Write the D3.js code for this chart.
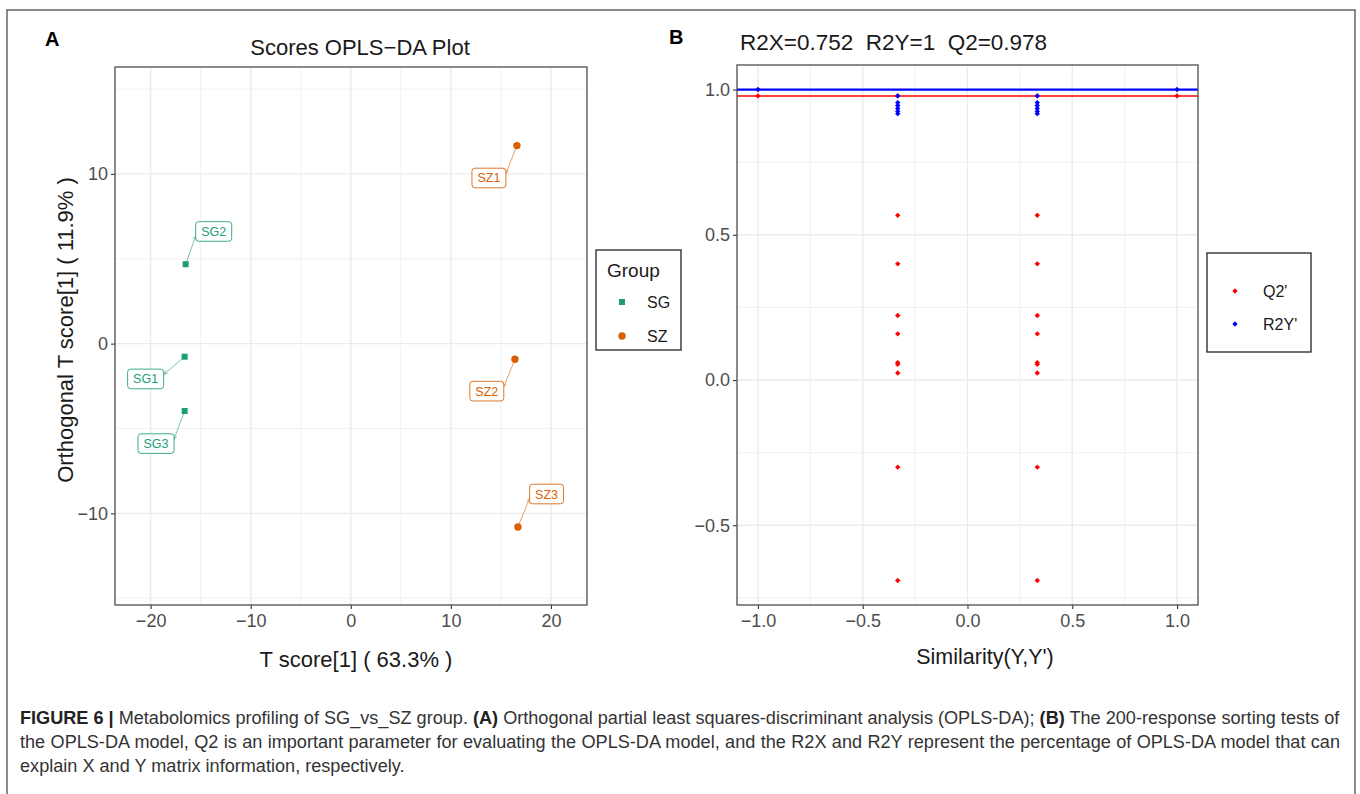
<!DOCTYPE html>
<html><head><meta charset="utf-8">
<script src="https://cdn.jsdelivr.net/npm/d3@7"></script>
<style>
body{margin:0;background:#fff;}
svg{display:block;font-family:"Liberation Sans",Arial,Helvetica,sans-serif;}
text{white-space:pre;}
</style></head><body>
<svg id="fig" width="1360" height="794"></svg>
<script>
// ---------- Panel A data (OPLS-DA scores) ----------
const sampleNames  = ["SG1","SG2","SG3","SZ1","SZ2","SZ3"];
const sampleGroups = ["SG","SG","SG","SZ","SZ","SZ"];
const tScore       = [-16.6,-16.5,-16.6,16.6,16.4,16.7];
const orthoTScore  = [-0.77,4.68,-3.97,11.67,-0.92,-10.8];
// repelled label anchors (data units)
const labelT       = [-20.5,-13.7,-19.46,13.8,13.59,19.56];
const labelOrtho   = [-2.08,6.61,-5.89,9.76,-2.80,-8.86];
const groupNames   = ["SG","SZ"];
const groupColors  = ["#1B9E77","#D95F02"];
const xTicksA = [-20,-10,0,10,20];
const yTicksA = [-10,0,10];
const xMinorA = [-15,-5,5,15];
const yMinorA = [-15,-5,5,15];

// ---------- Panel B data (permutation test) ----------
const modelR2X = 0.752, modelR2Y = 1, modelQ2 = 0.978;
const q2Similarity = [-1,1,
  -0.333,-0.333,-0.333,-0.333,-0.333,-0.333,-0.333,-0.333,-0.333,-0.333,
   0.333, 0.333, 0.333, 0.333, 0.333, 0.333, 0.333, 0.333, 0.333, 0.333];
const q2Values = [0.978,0.978,
  0.978,0.567,0.40,0.222,0.159,0.060,0.054,0.024,-0.30,-0.69,
  0.978,0.567,0.40,0.222,0.159,0.060,0.054,0.024,-0.30,-0.69];
const r2ySimilarity = [-1,1,
  -0.333,-0.333,-0.333,-0.333,-0.333,-0.333,
   0.333, 0.333, 0.333, 0.333, 0.333, 0.333];
const r2yValues = [1,1,
  0.978,0.955,0.945,0.935,0.925,0.917,
  0.978,0.955,0.945,0.935,0.925,0.917];
const seriesNames  = ["Q2'","R2Y'"];
const seriesColors = ["#FF0000","#0000FF"];
const xTicksB = [-1,-0.5,0,0.5,1];
const yTicksB = [-0.5,0,0.5,1];
const xMinorB = [-0.75,-0.25,0.25,0.75];
const yMinorB = [-0.75,-0.25,0.25,0.75];

const svg = d3.select("#fig");
svg.append("rect").attr("width",1360).attr("height",794).attr("fill","#fff");
// outer figure frame
svg.append("rect").attr("x",7).attr("y",10).attr("width",1348).attr("height",800)
  .attr("fill","none").attr("stroke","#666").attr("stroke-width",1.5);

function drawPanel(g, x, y, xMaj, xMin, yMaj, yMin, fmt){
  const [x0,x1] = x.range(), [y1,y0] = y.range();
  const grid = g.append("g");
  grid.selectAll(".vmin").data(xMin).join("line")
    .attr("x1",d=>x(d)).attr("x2",d=>x(d)).attr("y1",y0).attr("y2",y1)
    .attr("stroke","#EBEBEB").attr("stroke-width",0.7);
  grid.selectAll(".hmin").data(yMin).join("line")
    .attr("x1",x0).attr("x2",x1).attr("y1",d=>y(d)).attr("y2",d=>y(d))
    .attr("stroke","#EBEBEB").attr("stroke-width",0.7);
  grid.selectAll(".vmaj").data(xMaj).join("line")
    .attr("x1",d=>x(d)).attr("x2",d=>x(d)).attr("y1",y0).attr("y2",y1)
    .attr("stroke","#EBEBEB").attr("stroke-width",1.4);
  grid.selectAll(".hmaj").data(yMaj).join("line")
    .attr("x1",x0).attr("x2",x1).attr("y1",d=>y(d)).attr("y2",d=>y(d))
    .attr("stroke","#EBEBEB").attr("stroke-width",1.4);
  const ax = g.append("g").attr("transform",`translate(0,${y1})`)
    .call(d3.axisBottom(x).tickValues(xMaj).tickSize(4).tickPadding(5).tickFormat(fmt));
  const ay = g.append("g").attr("transform",`translate(${x0},0)`)
    .call(d3.axisLeft(y).tickValues(yMaj).tickSize(4).tickPadding(3).tickFormat(fmt));
  [ax,ay].forEach(a=>{
    a.select(".domain").remove();
    a.selectAll(".tick line").attr("stroke","#333").attr("stroke-width",1.1);
    a.selectAll(".tick text").attr("fill","#4D4D4D").attr("font-size",18)
      .attr("font-family","Liberation Sans, Arial, sans-serif");
  });
}
function drawBorder(g, x, y){
  const [x0,x1] = x.range(), [y1,y0] = y.range();
  g.append("rect").attr("x",x0).attr("y",y0).attr("width",x1-x0).attr("height",y1-y0)
    .attr("fill","none").attr("stroke","#4D4D4D").attr("stroke-width",1.3);
}

// ================= Panel A =================
const xA = d3.scaleLinear().domain([-23.56,23.6]).range([115,587]);
const yA = d3.scaleLinear().domain([-15.4,16.3]).range([605,67]);
const gA = svg.append("g");
drawPanel(gA, xA, yA, xTicksA, xMinorA, yTicksA, yMinorA, d3.format("d"));

const colorA = d3.scaleOrdinal().domain(groupNames).range(groupColors);
const rowsA = sampleNames.map((n,i)=>({name:n,group:sampleGroups[i],t:tScore[i],o:orthoTScore[i],lt:labelT[i],lo:labelOrtho[i]}));

const defs = svg.append("defs");
groupNames.forEach((gname,i)=>{
  defs.append("marker").attr("id","arr"+gname).attr("viewBox","0 -3 6 6")
    .attr("refX",5.5).attr("refY",0).attr("markerWidth",4.5).attr("markerHeight",4.5)
    .attr("markerUnits","userSpaceOnUse").attr("orient","auto")
    .append("path").attr("d","M0,-2.6L5.5,0L0,2.6").attr("fill","none")
    .attr("stroke",groupColors[i]).attr("stroke-opacity",0.6).attr("stroke-width",1);
});

// labels (segments + boxes)
const labG = gA.append("g");
rowsA.forEach(d=>{
  const px = xA(d.t), py = yA(d.o), cx = xA(d.lt), cy = yA(d.lo);
  const t = labG.append("text").attr("x",cx).attr("y",cy).attr("dy","0.36em")
    .attr("text-anchor","middle").attr("font-size",12.5).attr("fill",colorA(d.group)).text(d.name);
  const w = t.node().getComputedTextLength() + 11, h = 19.6;
  const bx0 = cx - w/2, bx1 = cx + w/2;
  const ex = Math.max(bx0, Math.min(bx1, px));
  const ey = Math.max(cy-4.5, Math.min(cy+4.5, py));
  labG.insert("line","text").attr("x1",px).attr("y1",py).attr("x2",ex).attr("y2",ey)
    .attr("stroke",colorA(d.group)).attr("stroke-opacity",0.6).attr("stroke-width",1)
    .attr("marker-end",`url(#arr${d.group})`);
  labG.insert("rect","text").attr("x",bx0).attr("y",cy-h/2).attr("width",w).attr("height",h)
    .attr("rx",3).attr("fill","#fff").attr("stroke",colorA(d.group)).attr("stroke-opacity",0.85).attr("stroke-width",1);
});

// points
function groupMark(sel, group){
  if(group==="SG") sel.append("rect").attr("x",-3).attr("y",-3).attr("width",6).attr("height",6).attr("fill",colorA(group));
  else sel.append("circle").attr("r",3.7).attr("fill",colorA(group));
}
rowsA.forEach(d=>{
  const p = gA.append("g").attr("transform",`translate(${xA(d.t)},${yA(d.o)})`);
  groupMark(p, d.group);
});
drawBorder(gA, xA, yA);

// titles A
svg.append("text").attr("x",45).attr("y",46).attr("font-size",20).attr("font-weight","bold").text("A");
svg.append("text").attr("x",360).attr("y",54.5).attr("text-anchor","middle").attr("font-size",22).attr("fill","#1a1a1a").text("Scores OPLS\u2212DA Plot");
svg.append("text").attr("x",356).attr("y",667).attr("text-anchor","middle").attr("font-size",22).attr("fill","#1a1a1a").text("T score[1] ( 63.3% )");
svg.append("text").attr("transform","translate(73,330) rotate(-90)").attr("text-anchor","middle").attr("font-size",22).attr("fill","#1a1a1a").text("Orthogonal T score[1] ( 11.9% )");

// legend A
const legA = svg.append("g");
legA.append("rect").attr("x",596).attr("y",250).attr("width",85).attr("height",100)
  .attr("fill","#fff").attr("stroke","#222").attr("stroke-width",1.3);
legA.append("text").attr("x",607).attr("y",277).attr("font-size",19).attr("fill","#1a1a1a").text("Group");
groupNames.forEach((gname,i)=>{
  const yy = 302 + i*34;
  groupMark(legA.append("g").attr("transform",`translate(622,${yy})`), gname);
  legA.append("text").attr("x",647).attr("y",yy).attr("dy","0.36em").attr("font-size",16).attr("fill","#1a1a1a").text(gname);
});

// ================= Panel B =================
const xB = d3.scaleLinear().domain([-1.1,1.1]).range([737,1198]);
const yB = d3.scaleLinear().domain([-0.7745,1.0845]).range([605,65]);
const gB = svg.append("g");
drawPanel(gB, xB, yB, xTicksB, xMinorB, yTicksB, yMinorB, d3.format(".1f"));

const diamond = (sel, col) => sel.append("rect").attr("x",-1.9).attr("y",-1.9).attr("width",3.8).attr("height",3.8)
  .attr("transform","rotate(45)").attr("fill",col);

// reference lines
gB.append("line").attr("x1",xB.range()[0]).attr("x2",xB.range()[1]).attr("y1",yB(modelQ2)).attr("y2",yB(modelQ2))
  .attr("stroke",seriesColors[0]).attr("stroke-width",1.6);
gB.append("line").attr("x1",xB.range()[0]).attr("x2",xB.range()[1]).attr("y1",yB(modelR2Y)).attr("y2",yB(modelR2Y))
  .attr("stroke",seriesColors[1]).attr("stroke-width",2.2);

q2Values.forEach((v,i)=>diamond(gB.append("g").attr("transform",`translate(${xB(q2Similarity[i])},${yB(v)})`), seriesColors[0]));
r2yValues.forEach((v,i)=>diamond(gB.append("g").attr("transform",`translate(${xB(r2ySimilarity[i])},${yB(v)})`), seriesColors[1]));
drawBorder(gB, xB, yB);

svg.append("text").attr("x",669).attr("y",44).attr("font-size",20).attr("font-weight","bold").text("B");
svg.append("text").attr("x",740).attr("y",49.5).attr("font-size",22.5).attr("fill","#1a1a1a")
  .text(`R2X=${modelR2X}  R2Y=${modelR2Y}  Q2=${modelQ2}`);
svg.append("text").attr("x",985).attr("y",664).attr("text-anchor","middle").attr("font-size",21.5).attr("fill","#1a1a1a").text("Similarity(Y,Y')");

// legend B
const legB = svg.append("g");
legB.append("rect").attr("x",1207).attr("y",253).attr("width",104).attr("height",99)
  .attr("fill","#fff").attr("stroke","#222").attr("stroke-width",1.3);
seriesNames.forEach((s,i)=>{
  const yy = 291 + i*33;
  diamond(legB.append("g").attr("transform",`translate(1235,${yy})`), seriesColors[i]);
  legB.append("text").attr("x",1263).attr("y",yy).attr("dy","0.36em").attr("font-size",16).attr("fill","#1a1a1a").text(s);
});

// ================= Caption =================
const captionLines = [
  [["FIGURE 6 | ",true],["Metabolomics profiling of SG_vs_SZ group. ",false],["(A)",true],[" Orthogonal partial least squares-discriminant analysis (OPLS-DA); ",false],["(B)",true],[" The 200-response sorting tests of",false]],
  [["the OPLS-DA model, Q2 is an important parameter for evaluating the OPLS-DA model, and the R2X and R2Y represent the percentage of OPLS-DA model that can",false]],
  [["explain X and Y matrix information, respectively.",false]]
];
const capG = svg.append("g");
const capLineY = [724, 748, 772];
const capTexts = captionLines.map((parts,li)=>{
  const t = capG.append("text").attr("x",20).attr("y",capLineY[li]).attr("font-size",15).attr("fill","#333");
  parts.forEach(([s,b])=>t.append("tspan").attr("font-weight",b?"bold":"normal").attr("fill",b?"#222":"#333").text(s));
  return t;
});
const w1 = capTexts[0].node().getComputedTextLength();
const fs = 15 * 1320 / w1;
capTexts.forEach(t=>t.attr("font-size",fs));
const w2 = capTexts[1].node().getComputedTextLength();
const nSp = (captionLines[1][0][0].match(/ /g)||[]).length;
capTexts[1].attr("word-spacing", (1320 - w2)/nSp);
</script>
</body></html>
